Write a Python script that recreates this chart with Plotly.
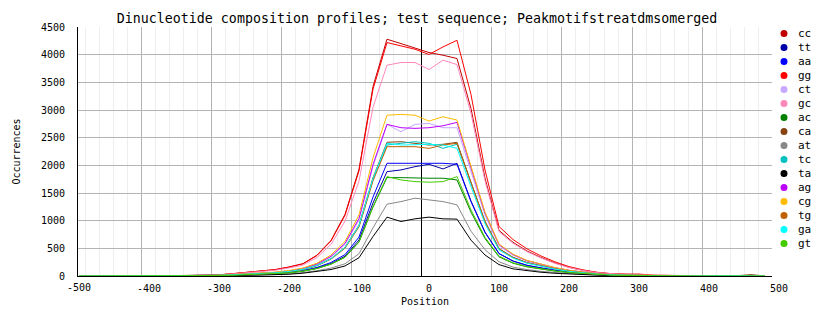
import plotly.graph_objects as go

# Window centres (bp) of the 20-bp sliding windows
positions = [-490, -470, -450, -430, -410, -390, -370, -350, -330, -310,
             -290, -270, -250, -230, -210, -190, -170, -150, -130, -110, -90, -70,
             -50, -30, -10, 10, 30, 50,
             70, 90, 110, 130, 150, 170, 190, 210, 230, 250, 270, 290,
             310, 330, 350, 370, 390, 410, 430, 450, 470, 490]

cc = [0, 0, 5, 0, 0, 5, 0, 5, 10, 15,
      21, 43, 64, 86, 116, 163, 223, 377, 642, 1113, 1926, 3423,
      4279, 4200, 4122, 4039, 3990, 3930,
      3026, 1769, 825, 609, 452, 334, 236, 157, 102, 63, 39, 28,
      20, 10, 10, 5, 5, 0, 5, 0, 0, 0]
tt = [0, 0, 0, 0, 0, 5, 0, 0, 5, 5,
      9, 15, 23, 32, 41, 60, 92, 143, 226, 358, 651, 1320,
      1886, 1917, 1976, 2019, 1935, 2037,
      1355, 794, 407, 271, 194, 143, 104, 71, 49, 31, 18, 10,
      5, 5, 0, 0, 0, 5, 0, 0, 0, 0]
aa = [0, 0, 0, 0, 0, 0, 5, 0, 0, 5,
      10, 16, 24, 35, 45, 65, 100, 155, 244, 387, 703, 1426,
      2037, 2037, 2037, 2050, 2037, 2019,
      1343, 787, 404, 269, 192, 141, 103, 71, 48, 30, 18, 10,
      5, 0, 5, 0, 0, 0, 0, 0, 0, 0]
gg = [0, 0, 0, 5, 0, 0, 5, 5, 10, 15,
      21, 42, 63, 84, 114, 160, 219, 371, 633, 1097, 1899, 3375,
      4219, 4158, 4098, 4003, 4140, 4260,
      3280, 1917, 895, 660, 490, 362, 256, 170, 111, 68, 43, 35,
      35, 15, 10, 5, 5, 5, 0, 0, 0, 0]
ct = [0, 5, 0, 0, 0, 5, 0, 0, 5, 10,
      13, 24, 35, 48, 64, 90, 133, 212, 345, 570, 1010, 1980,
      2740, 2607, 2740, 2758, 2680, 2680,
      1876, 1099, 549, 375, 268, 201, 145, 99, 67, 40, 24, 16,
      10, 5, 5, 0, 0, 5, 0, 0, 0, 0]
gc = [0, 5, 0, 0, 5, 0, 0, 5, 5, 10,
      19, 38, 57, 76, 103, 145, 198, 335, 572, 991, 1715, 3048,
      3810, 3858, 3858, 3732, 3900, 3822,
      2943, 1720, 803, 592, 440, 325, 229, 153, 99, 61, 38, 27,
      15, 10, 5, 5, 0, 5, 0, 5, 0, 0]
ac = [0, 0, 0, 0, 0, 0, 0, 5, 5, 5,
      9, 14, 21, 30, 39, 57, 87, 135, 213, 338, 613, 1245,
      1778, 1778, 1767, 1767, 1767, 1736,
      1154, 677, 347, 231, 165, 122, 89, 61, 42, 26, 16, 9,
      5, 0, 0, 5, 0, 0, 0, 5, 0, 0]
ca = [0, 0, 0, 0, 5, 0, 0, 5, 5, 5,
      12, 22, 31, 43, 58, 82, 121, 193, 314, 519, 918, 1776,
      2416, 2427, 2398, 2367, 2380, 2416,
      1691, 991, 495, 338, 242, 181, 130, 89, 60, 36, 22, 14,
      10, 5, 0, 5, 0, 0, 0, 5, 25, 0]
at = [0, 0, 10, 10, 0, 0, 0, 0, 0, 5,
      6, 10, 16, 21, 26, 39, 62, 95, 143, 221, 402, 870,
      1298, 1345, 1406, 1376, 1345, 1286,
      810, 476, 257, 161, 116, 85, 62, 44, 31, 19, 10, 6,
      5, 0, 0, 0, 0, 0, 0, 0, 0, 0]
tc = [0, 0, 5, 0, 0, 0, 5, 0, 5, 5,
      12, 21, 31, 43, 57, 80, 118, 189, 308, 509, 899, 1740,
      2367, 2398, 2427, 2398, 2307, 2380,
      1666, 976, 488, 333, 238, 179, 129, 88, 60, 36, 21, 14,
      5, 5, 0, 0, 5, 0, 0, 0, 0, 0]
ta = [0, 0, 0, 0, 0, 0, 0, 0, 0, 0,
      5, 9, 13, 17, 21, 32, 51, 78, 117, 181, 330, 713,
      1064, 985, 1033, 1064, 1033, 1028,
      648, 380, 206, 129, 93, 68, 49, 35, 25, 15, 8, 5,
      0, 0, 0, 0, 0, 0, 0, 0, 0, 0]
ag = [0, 0, 0, 5, 0, 0, 0, 5, 5, 10,
      14, 25, 36, 49, 66, 93, 137, 219, 356, 589, 1041, 2014,
      2740, 2680, 2668, 2680, 2715, 2776,
      1943, 1138, 569, 389, 278, 208, 150, 103, 69, 42, 25, 17,
      10, 5, 0, 5, 0, 0, 5, 0, 0, 0]
cg = [0, 0, 5, 0, 0, 0, 5, 0, 5, 10,
      15, 26, 38, 52, 70, 99, 145, 232, 378, 625, 1104, 2136,
      2906, 2920, 2906, 2800, 2878, 2818,
      1973, 1155, 578, 395, 282, 211, 152, 104, 70, 42, 25, 17,
      10, 5, 5, 0, 5, 0, 0, 5, 0, 0]
tg = [0, 0, 0, 0, 0, 5, 0, 0, 5, 5,
      12, 21, 30, 42, 56, 79, 117, 187, 304, 502, 888, 1718,
      2337, 2337, 2337, 2307, 2367, 2398,
      1679, 983, 492, 336, 240, 180, 129, 89, 60, 36, 22, 14,
      5, 5, 5, 0, 0, 0, 5, 0, 0, 0]
ga = [0, 0, 0, 0, 5, 0, 5, 0, 0, 5,
      12, 22, 31, 43, 58, 82, 120, 192, 312, 516, 911, 1763,
      2398, 2367, 2380, 2380, 2367, 2307,
      1615, 946, 473, 323, 231, 173, 125, 85, 58, 35, 21, 14,
      5, 5, 0, 0, 5, 5, 5, 5, 5, 0]
gt = [0, 0, 0, 0, 0, 0, 0, 0, 0, 5,
      9, 14, 22, 31, 40, 57, 88, 136, 216, 341, 620, 1257,
      1796, 1736, 1706, 1695, 1706, 1796,
      1194, 700, 359, 239, 171, 126, 92, 63, 43, 27, 16, 9,
      5, 0, 0, 0, 0, 0, 0, 0, 0, 0]

series_names = ["cc", "tt", "aa", "gg", "ct", "gc", "ac", "ca",
                "at", "tc", "ta", "ag", "cg", "tg", "ga", "gt"]
series_values = [cc, tt, aa, gg, ct, gc, ac, ca, at, tc, ta, ag, cg, tg, ga, gt]
series_colors = ["#c00000", "#0000a8", "#0000ff", "#ff0000", "#c8a8ff", "#ff88bb",
                 "#008000", "#884411", "#888888", "#00c0c0", "#000000", "#bb00ff",
                 "#ffbb00", "#c06000", "#00ffff", "#44cc00"]

x_tick_values = [-400, -300, -200, -100, 0, 100, 200, 300, 400, 500]
x_tick_labels = ["-400", "-300", "-200", "-100", "0", "100", "200", "300", "400", "500"]
y_tick_values = [0, 500, 1000, 1500, 2000, 2500, 3000, 3500, 4000, 4500]

title_text = "Dinucleotide composition profiles; test sequence; Peakmotifstreatdmsomerged"

MONO = "DejaVu Sans Mono, Liberation Mono, monospace"
W, H = 834, 328
ML, MR, MT, MB = 78, 62, 27, 52
X_MIN, X_MAX = -491.4, 500

fig = go.Figure()
for name, vals, col in zip(series_names, series_values, series_colors):
    fig.add_trace(go.Scatter(x=positions, y=vals, mode="lines", name=name,
                             line=dict(color=col, width=1), showlegend=False))

# Legend drawn at the right of the plot: dot + label per series
plot_w = W - ML - MR
plot_h = H - MT - MB
shapes = []
annotations = []
for i, (name, col) in enumerate(zip(series_names, series_colors)):
    py = 33.5 + 14 * i
    yp = 1 - (py - MT) / plot_h
    xm = (784 - ML) / plot_w
    shapes.append(dict(type="circle", xref="paper", yref="paper",
                       xsizemode="pixel", ysizemode="pixel",
                       xanchor=xm, yanchor=yp, x0=-3.5, x1=3.5, y0=-3.5, y1=3.5,
                       fillcolor=col, line=dict(width=0)))
    annotations.append(dict(xref="paper", yref="paper", x=(796 - ML) / plot_w, y=yp,
                            xanchor="left", yanchor="middle", text=name, showarrow=False,
                            font=dict(family=MONO, size=11, color="black")))

# Label for the left end of the position axis
annotations.append(dict(xref="x", yref="paper", x=X_MIN, y=0, xanchor="center",
                        yanchor="top", xshift=1, yshift=-4, text="-500", showarrow=False,
                        font=dict(family=MONO, size=10, color="black")))

fig.update_layout(
    width=W, height=H,
    margin=dict(l=ML, r=MR, t=MT, b=MB, pad=0),
    paper_bgcolor="white", plot_bgcolor="white",
    title=dict(text=title_text, x=0.5, xref="container", xanchor="center",
               y=1 - 18 / H, yref="container", yanchor="middle",
               font=dict(family=MONO, size=13.3, color="black")),
    shapes=shapes, annotations=annotations,
    font=dict(family=MONO, size=10, color="black"),
)

fig.update_xaxes(
    range=[X_MIN, X_MAX], tickmode="array", tickvals=x_tick_values, ticktext=x_tick_labels,
    ticks="", ticklabelshift=7, ticklabelstandoff=3,
    showgrid=True, gridcolor="#b4b4b4", gridwidth=1,
    minor=dict(dtick=20, tick0=0, showgrid=True, gridcolor="#eeeeee", gridwidth=1, ticks=""),
    zeroline=True, zerolinecolor="black", zerolinewidth=1,
    showline=True, linecolor="black", linewidth=1,
    title=dict(text="Position", font=dict(family=MONO, size=10), standoff=4),
    tickfont=dict(family=MONO, size=10),
)
fig.update_yaxes(
    range=[0, 4500], tickmode="array", tickvals=y_tick_values,
    ticks="", ticklabelstandoff=10,
    showgrid=True, gridcolor="#b4b4b4", gridwidth=1,
    zeroline=False, showline=True, linecolor="black", linewidth=1,
    title=dict(text="Occurrences", font=dict(family=MONO, size=10), standoff=18),
    tickfont=dict(family=MONO, size=10),
)

fig.write_html("out.html")
